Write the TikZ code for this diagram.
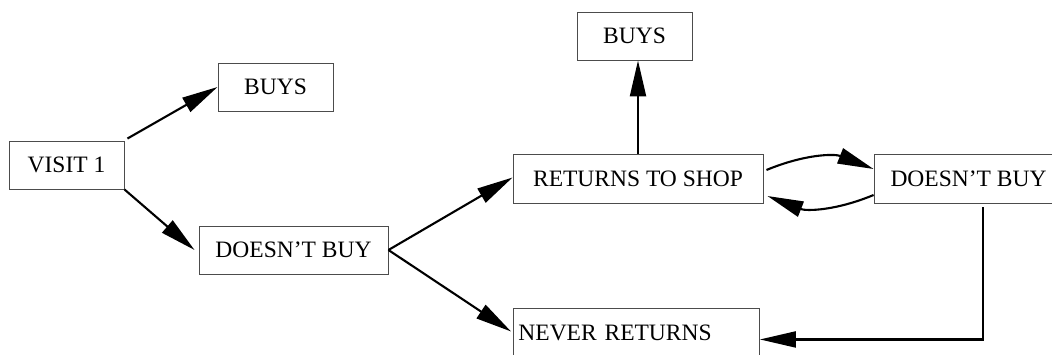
\documentclass[tikz,border=0pt]{standalone}
\usepackage{fontspec}
\setmainfont{Liberation Serif}
\usetikzlibrary{arrows.meta,calc}
\begin{document}
\begin{tikzpicture}[x=1pt,y=1pt,
  box/.style={draw=black!70,line width=0.9pt,inner sep=0pt,minimum height=48pt,
    font=\fontsize{23.5}{28}\selectfont},
  conn/.style={line width=2.1pt,-{Triangle[length=36pt,width=16pt]}}]
\useasboundingbox (0,0) rectangle (1052,-354);
\node[box,minimum width=115pt] (v1) at (66.5,-165) {VISIT 1};
\node[box,minimum width=115pt] (b1) at (275.5,-87) {BUYS};
\node[box,minimum width=189pt] (d1) at (293.5,-250) {DOESN’T BUY};
\node[box,minimum width=115pt] (b2) at (634.5,-36) {BUYS};
\node[box,minimum width=250pt,minimum height=49pt] (r) at (638,-178.5) {RETURNS TO SHOP};
\node[box,minimum width=189pt,minimum height=49pt] (d2) at (968.5,-178.5) {DOESN’T BUY};
\node[box,minimum width=246pt,anchor=north west,text width=236pt,align=left] (nr) at (513,-308) {NEVER RETURNS};
\draw[conn] ([shift={(3,2)}]v1.north east) -- (b1.west);
\draw[conn] (v1.south east) -- ([xshift=-4]d1.west);
\draw[conn] (d1.east) -- ([yshift=1]r.west);
\draw[conn] (d1.east) -- ([shift={(-2,1)}]nr.west);
\draw[conn] (r.north) -- (r.north |- b2.south);
\draw[conn] ([shift={(3,8.5)}]r.east) to[bend left=22] ([yshift=9.5]d2.west);
\draw[conn] ([yshift=-16.5]d2.west) to[bend left=22] ([shift={(4,-17.5)}]r.east);
\coordinate (c) at ([shift={(14.5,-4)}]d2.south);
\draw[conn] (c) |- ([yshift=-7]nr.east);
\end{tikzpicture}
\end{document}
